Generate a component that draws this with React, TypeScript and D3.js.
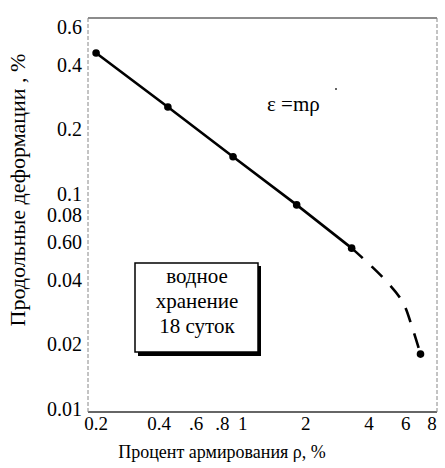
import React from 'react'
import * as d3 from 'd3'

const width = 445
const height = 468
const frame = { left: 88, right: 437, top: 18, bottom: 412 }
const font = 'Liberation Serif, DejaVu Serif, serif'

// solid part of the curve (measured points)
const rho = [0.2, 0.44, 0.9, 1.81, 3.31]
const eps = [0.453, 0.254, 0.149, 0.089, 0.056]
// dashed tail
const tailRho = [3.31, 4.65, 5.79, 6.45, 7.05]
const tailEps = [0.056, 0.041, 0.0315, 0.0238, 0.018]

const xTicks = [0.2, 0.4, 0.6, 0.8, 1, 2, 4, 6, 8]
const xTickLabels = ['0.2', '0.4', '.6', '.8', '1', '2', '4', '6', '8']
const yTicks = [0.6, 0.4, 0.2, 0.1, 0.08, 0.06, 0.04, 0.02, 0.01]
const yTickLabels = ['0.6', '0.4', '0.2', '0.1', '0.08', '0.60', '0.04', '0.02', '0.01']

const boxLines = ['водное', 'хранение', '18 суток']

export default function App() {
  const x = d3.scaleLog().domain([0.183, 8.45]).range([frame.left, frame.right])
  const y = d3.scaleLog().domain([0.00968, 0.659]).range([frame.bottom, frame.top])

  const solid = rho.map((r, i) => [r, eps[i]] as [number, number])
  const tail = tailRho.map((r, i) => [r, tailEps[i]] as [number, number])

  const line = d3
    .line<[number, number]>()
    .x((d) => x(d[0]))
    .y((d) => y(d[1]))
  const curve = d3
    .line<[number, number]>()
    .x((d) => x(d[0]))
    .y((d) => y(d[1]))
    .curve(d3.curveCatmullRom)

  const markers = [...solid, tail[tail.length - 1]]

  return (
    <svg
      width={width}
      height={height}
      style={{ position: 'absolute', left: 0, top: 0, background: 'white', fontFamily: font }}
    >
      {/* frame */}
      <line x1={frame.left} x2={frame.right} y1={frame.top} y2={frame.top} stroke="#666" strokeWidth={1.5} />
      <line x1={frame.left} x2={frame.right} y1={frame.bottom} y2={frame.bottom} stroke="#333" strokeWidth={1.5} />
      <line x1={frame.left} x2={frame.left} y1={frame.top} y2={frame.bottom} stroke="#888" strokeWidth={1} strokeDasharray="4,2" />
      <line x1={frame.right} x2={frame.right} y1={frame.top} y2={frame.bottom} stroke="#888" strokeWidth={1} strokeDasharray="4,2" />

      {/* y ticks */}
      {yTicks.map((t, i) => (
        <text key={t} x={82} y={y(t)} dy="0.35em" textAnchor="end" fontSize={20}>
          {yTickLabels[i]}
        </text>
      ))}
      {/* x ticks */}
      {xTicks.map((t, i) => (
        <text key={t} x={x(t)} y={430} textAnchor="middle" fontSize={19}>
          {xTickLabels[i]}
        </text>
      ))}

      <text x={222} y={458} textAnchor="middle" fontSize={18}>
        Процент армирования ρ, %
      </text>
      <text transform="translate(25,190) rotate(-90)" textAnchor="middle" fontSize={22}>
        Продольные деформации , %
      </text>

      {/* curve */}
      <path d={line(solid) ?? ''} fill="none" stroke="black" strokeWidth={2.6} />
      <path d={curve(tail) ?? ''} fill="none" stroke="black" strokeWidth={2.6} strokeDasharray="15,12" />
      {markers.map((d, i) => (
        <circle key={i} cx={x(d[0])} cy={y(d[1])} r={3.8} fill="black" />
      ))}

      {/* formula */}
      <text x={267} y={111} fontSize={21}>
        ε =mρ
      </text>
      <circle cx={336} cy={89} r={1} fill="#333" />

      {/* storage box */}
      <rect x={138} y={266} width={123} height={90} fill="black" />
      <rect x={135} y={263} width={123} height={89} fill="white" stroke="black" strokeWidth={1.5} />
      {boxLines.map((s, i) => (
        <text key={s} x={197} y={283 + i * 25} textAnchor="middle" fontSize={21}>
          {s}
        </text>
      ))}
    </svg>
  )
}
